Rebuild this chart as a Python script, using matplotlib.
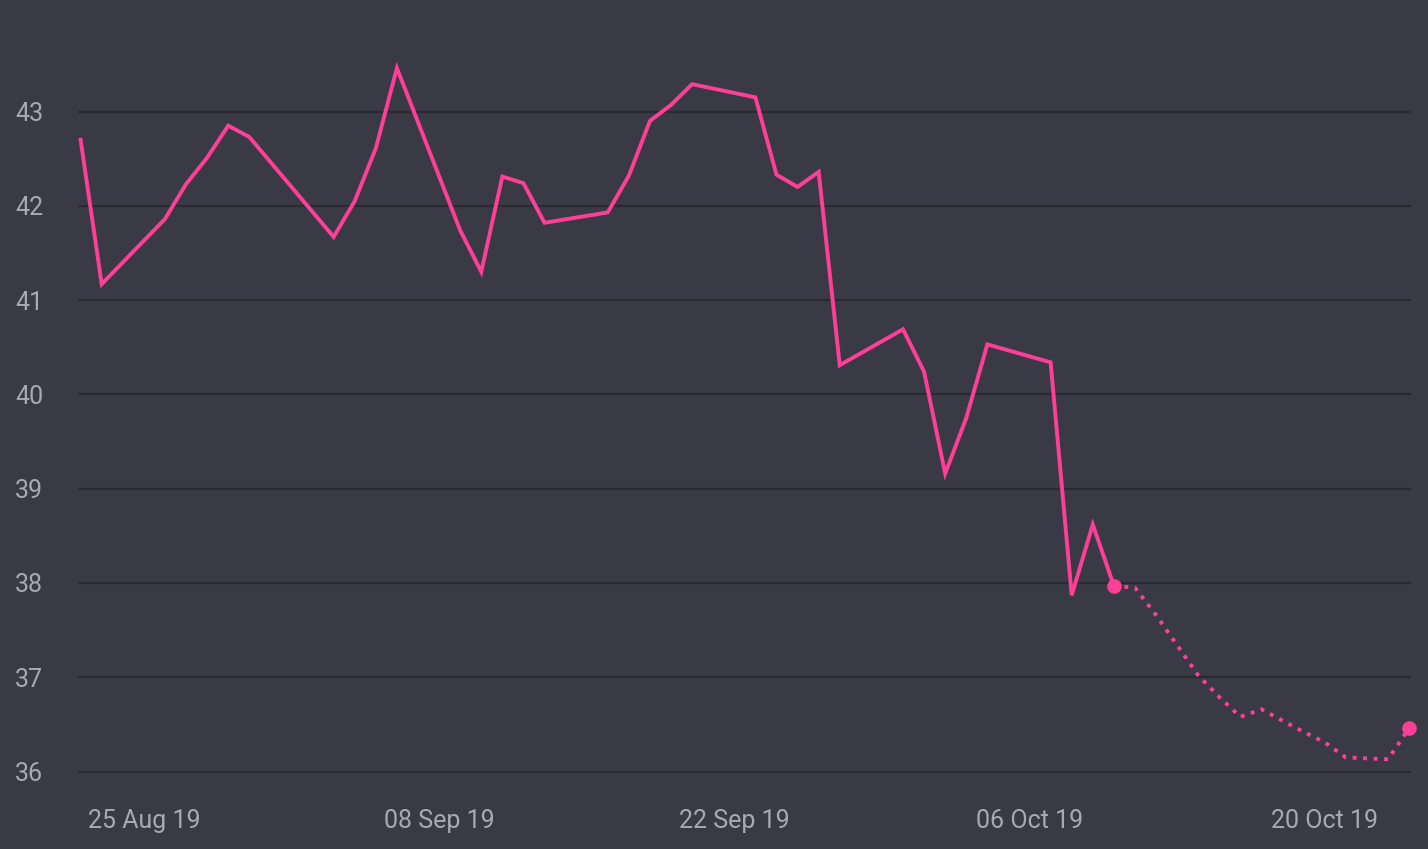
import pandas as pd
import numpy as np
import matplotlib
matplotlib.use('Agg')
import matplotlib.pyplot as plt
import matplotlib.dates as mdates

# observed prices (trading days)
hist_dates = ['2019-08-22', '2019-08-23', '2019-08-26', '2019-08-27', '2019-08-28',
              '2019-08-29', '2019-08-30', '2019-09-03', '2019-09-04', '2019-09-05',
              '2019-09-06', '2019-09-09', '2019-09-10', '2019-09-11', '2019-09-12',
              '2019-09-13', '2019-09-16', '2019-09-17', '2019-09-18', '2019-09-19',
              '2019-09-20', '2019-09-23', '2019-09-24', '2019-09-25', '2019-09-26',
              '2019-09-27', '2019-09-30', '2019-10-01', '2019-10-02', '2019-10-03',
              '2019-10-04', '2019-10-07', '2019-10-08', '2019-10-09', '2019-10-10']
hist_values = [42.70, 41.17, 41.86, 42.23, 42.51,
               42.85, 42.73, 41.67, 42.05, 42.61,
               43.46, 41.74, 41.30, 42.31, 42.24,
               41.82, 41.93, 42.32, 42.90, 43.07,
               43.29, 43.15, 42.33, 42.20, 42.36,
               40.31, 40.69, 40.24, 39.16, 39.75,
               40.53, 40.34, 37.87, 38.62, 37.97]

# forecast
fc_dates = ['2019-10-10', '2019-10-11', '2019-10-12', '2019-10-13', '2019-10-14',
            '2019-10-15', '2019-10-16', '2019-10-17', '2019-10-18', '2019-10-19',
            '2019-10-20', '2019-10-21', '2019-10-22', '2019-10-23', '2019-10-24']
fc_values = [37.97, 37.95, 37.66, 37.34, 37.02,
             36.79, 36.58, 36.66, 36.54, 36.42,
             36.31, 36.15, 36.14, 36.13, 36.46]

y_ticks = [36, 37, 38, 39, 40, 41, 42, 43]
x_ticks = ['2019-08-25', '2019-09-08', '2019-09-22', '2019-10-06', '2019-10-20']

bg = '#3a3a46'
pink = '#fe3f97'
grid_col = '#2a2a32'
txt_col = '#a9a9b5'

hd = pd.to_datetime(hist_dates)
fd = pd.to_datetime(fc_dates)

fig = plt.figure(figsize=(14.28, 8.49), dpi=100, facecolor=bg)
ax = fig.add_axes([0.0546, 0.069, 0.9334, 0.8663], facecolor=bg)

for t in y_ticks:
    ax.axhline(t, color=grid_col, lw=1.6, zorder=1)

ax.plot(hd, hist_values, color=pink, lw=2.8, solid_joinstyle='miter', zorder=3)
ax.plot(fd, fc_values, color=pink, lw=2.8, linestyle=(0, (1.0, 1.7)),
        dash_capstyle='butt', zorder=3, clip_on=False)
ax.plot([fd[0], fd[-1]], [fc_values[0], fc_values[-1]], 'o', color=pink,
        ms=10.5, mec='none', zorder=4, clip_on=False)

ax.set_xlim(hd[0] - pd.Timedelta(hours=3), fd[-1] + pd.Timedelta(hours=2))
ax.set_ylim(35.8, 43.6)

ax.set_yticks(y_ticks)
ax.set_yticklabels([str(t) for t in y_ticks])
ax.set_xticks(pd.to_datetime(x_ticks))
ax.xaxis.set_major_formatter(mdates.DateFormatter('%d %b %y'))

ax.tick_params(axis='both', length=0, colors=txt_col, labelsize=18)
ax.tick_params(axis='y', pad=25)
ax.tick_params(axis='x', pad=13.5)
for lab in ax.get_xticklabels() + ax.get_yticklabels():
    lab.set_family(['Roboto', 'DejaVu Sans'])

for s in ax.spines.values():
    s.set_visible(False)

fig.savefig('out.png', dpi=100, facecolor=bg)
